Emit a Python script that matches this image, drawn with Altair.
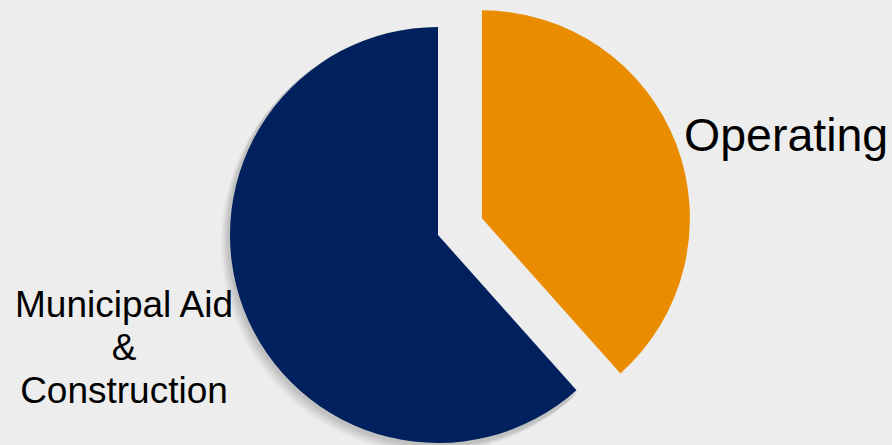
import math
import altair as alt
import pandas as pd

categories = ["Operating", "Municipal Aid & Construction"]
shares = [38.4, 61.6]
labels = ["Operating", "Municipal Aid\n&\nConstruction"]
colors = ["#EA8C00", "#00215E"]

df = pd.DataFrame({"category": categories, "share": shares, "label": labels, "order": [0, 1]})

CX, CY, R = 438, 235, 208
EXPLODE = 47
mid = 0.5 * shares[0] / sum(shares) * 2 * math.pi
OX = CX + EXPLODE * math.sin(mid)
OY = CY - EXPLODE * math.cos(mid)

base = (
    alt.Chart(df)
    .transform_window(end="sum(share)", sort=[alt.SortField("order")])
    .transform_calculate(start="datum.end - datum.share")
)

theta = alt.Theta("start:Q", scale=alt.Scale(domain=[0, 100], range=[0, 2 * math.pi]))
theta2 = alt.Theta2("end:Q")
color = alt.Color("category:N", scale=alt.Scale(domain=categories, range=colors), legend=None)

navy_data = base.transform_filter(alt.datum.category == categories[1])
orange_data = base.transform_filter(alt.datum.category == categories[0])

shadows = []
for dx, dy, op in [(-7, 8, 0.05), (-5, 6, 0.07), (-3, 4, 0.09), (-1, 2, 0.1)]:
    shadows.append(
        navy_data.mark_arc(radius=R + 2, color="#555555", opacity=op).encode(
            theta=theta, theta2=theta2, x=alt.value(CX + dx), y=alt.value(CY + dy)
        )
    )

navy = navy_data.mark_arc(radius=R).encode(
    theta=theta, theta2=theta2, color=color, x=alt.value(CX), y=alt.value(CY)
)
orange = orange_data.mark_arc(radius=R).encode(
    theta=theta, theta2=theta2, color=color, x=alt.value(OX), y=alt.value(OY)
)

op_text = orange_data.mark_text(
    align="left", baseline="alphabetic", fontSize=46.5, font="Liberation Sans", color="#000000"
).encode(text="label:N", x=alt.value(684), y=alt.value(151))

mun_text = navy_data.mark_text(
    align="center", baseline="alphabetic", fontSize=37, font="Liberation Sans",
    color="#000000", lineBreak="\n", lineHeight=43
).encode(text="label:N", x=alt.value(124), y=alt.value(317))

chart = (
    alt.layer(*shadows, navy, orange, op_text, mun_text)
    .properties(width=892, height=445, autosize=alt.AutoSizeParams(type="none"), padding=0)
    .configure(background="#ededed")
    .configure_view(stroke=None)
)

chart.save("out.html", embed_options={"renderer": "svg", "actions": False})
